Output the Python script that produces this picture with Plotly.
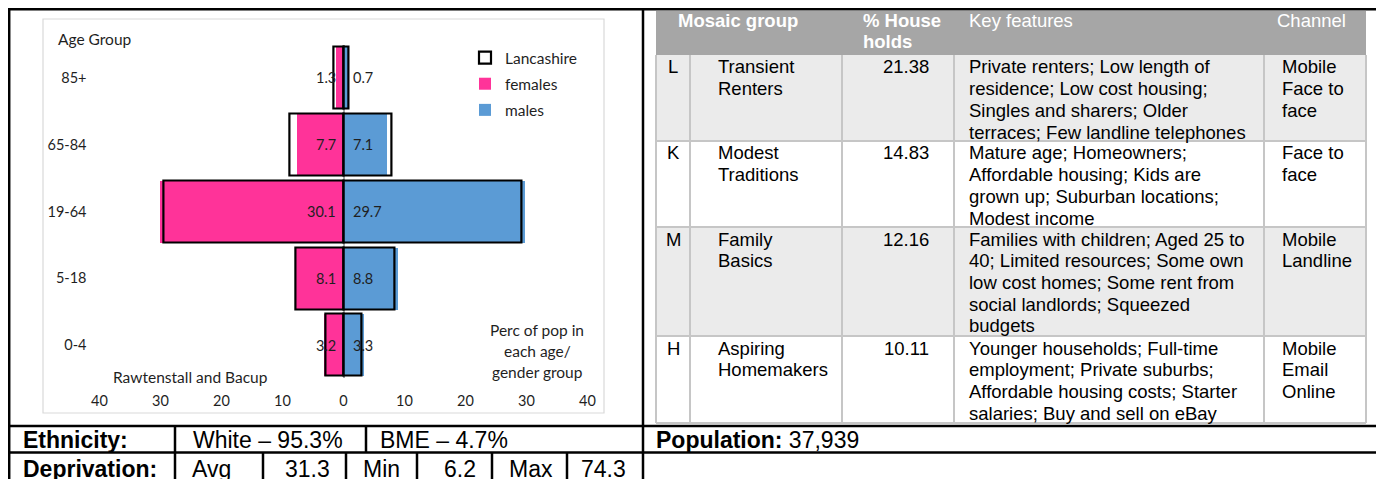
import plotly.graph_objects as go

# page is shown with an 8px body margin, so the figure is 8px smaller
OFF = 8
W, H = 1384 - OFF, 479 - OFF

# ---------------- data ----------------
age_groups = ["0-4", "5-18", "19-64", "65-84", "85+"]
females = [3.2, 8.1, 30.1, 7.7, 1.3]
males = [3.3, 8.8, 29.7, 7.1, 0.7]
lanc_females = [2.9, 7.9, 29.5, 8.9, 1.6]
lanc_males = [3.0, 8.3, 29.2, 7.9, 0.9]
x_ticks = [-40, -30, -20, -10, 0, 10, 20, 30, 40]
x_tick_labels = [str(abs(v)) for v in x_ticks]

table_header = ["Mosaic group", "% House<br>holds", "Key features", "Channel"]
mosaic_codes = ["L", "K", "M", "H"]
mosaic_names = [["Transient", "Renters"], ["Modest", "Traditions"],
                ["Family", "Basics"], ["Aspiring", "Homemakers"]]
household_pct = ["21.38", "14.83", "12.16", "10.11"]
key_features = [
    ["Private renters; Low length of", "residence; Low cost housing;",
     "Singles and sharers; Older", "terraces; Few landline telephones"],
    ["Mature age; Homeowners;", "Affordable housing; Kids are",
     "grown up; Suburban locations;", "Modest income"],
    ["Families with children; Aged 25 to", "40; Limited resources; Some own",
     "low cost homes; Some rent from", "social landlords; Squeezed", "budgets"],
    ["Younger households; Full-time", "employment; Private suburbs;",
     "Affordable housing costs; Starter", "salaries; Buy and sell on eBay"],
]
channels = [["Mobile", "Face to", "face"], ["Face to", "face"],
            ["Mobile", "Landline"], ["Mobile", "Email", "Online"]]

ethnicity_labels = ["White", "BME"]
ethnicity_values = [95.3, 4.7]
deprivation_labels = ["Avg", "Min", "Max"]
deprivation_values = [31.3, 6.2, 74.3]
population = 37939

# ---------------- helpers (page pixels -> paper) ----------------
def px(x):
    return (x - OFF) / W


def py(y):
    return 1 - (y - OFF) / H


shapes = []
annotations = []


def hline(y, x0, x1, color="black", width=2.5):
    shapes.append(dict(type="line", xref="paper", yref="paper", x0=px(x0), x1=px(x1),
                       y0=py(y), y1=py(y), line=dict(color=color, width=width)))


def vline(x, y0, y1, color="black", width=2.5):
    shapes.append(dict(type="line", xref="paper", yref="paper", x0=px(x), x1=px(x),
                       y0=py(y0), y1=py(y1), line=dict(color=color, width=width)))


def rect(x0, y0, x1, y1, fill=None, line_color=None, lw=1, layer="below"):
    shapes.append(dict(type="rect", xref="paper", yref="paper", x0=px(x0), x1=px(x1),
                       y0=py(y1), y1=py(y0), fillcolor=fill or "rgba(0,0,0,0)",
                       line=dict(color=line_color or "rgba(0,0,0,0)", width=lw if line_color else 0),
                       layer=layer))


def txt(x, y, s, anchor="left", size=18.5, color="#000000",
        family="Liberation Sans, Arial, sans-serif"):
    annotations.append(dict(xref="paper", yref="paper", x=px(x), y=py(y), text=s,
                            showarrow=False, xanchor=anchor, yanchor="middle",
                            font=dict(family=family, size=size, color=color), borderpad=0))


CAL = "Lato, Carlito, Calibri, sans-serif"
TXT = "#1f1f1f"
CS = 15.5

# ---------------- chart frame ----------------
rect(43, 19, 604, 413, line_color="#d9d9d9", lw=1.2)
txt(57, 39, "Age Group", size=CS, color=TXT, family=CAL)
txt(191, 377, "Rawtenstall and Bacup", anchor="center", size=CS, color=TXT, family=CAL)
for i, line in enumerate(["Perc of pop in", "each age/", "gender group"]):
    txt(537, 330 + 21 * i, line, anchor="center", size=CS, color=TXT, family=CAL)

# ---------------- bars ----------------
fig = go.Figure()
fig.add_trace(go.Bar(y=age_groups, x=[-v for v in females], orientation="h", name="females",
                     marker=dict(color="#ff3399", line=dict(width=0)), width=0.93,
                     legendgroup="f", legendrank=2, hoverinfo="skip"))
fig.add_trace(go.Bar(y=age_groups, x=males, orientation="h", name="males",
                     marker=dict(color="#5b9bd5", line=dict(width=0)), width=0.93,
                     legendgroup="m", legendrank=3, hoverinfo="skip"))
fig.add_trace(go.Bar(y=age_groups, x=[-v for v in lanc_females], orientation="h", name="Lancashire",
                     marker=dict(color="rgba(0,0,0,0)", line=dict(color="black", width=2.2)),
                     width=0.93, legendgroup="l", legendrank=1, hoverinfo="skip"))
fig.add_trace(go.Bar(y=age_groups, x=lanc_males, orientation="h", name="Lancashire",
                     marker=dict(color="rgba(0,0,0,0)", line=dict(color="black", width=2.2)),
                     width=0.93, legendgroup="l", showlegend=False, hoverinfo="skip"))

for g, v in zip(age_groups, females):
    annotations.append(dict(xref="x", yref="y", x=0, y=g, text=f"{v}", showarrow=False,
                            xanchor="right", xshift=-7, borderpad=0,
                            font=dict(family=CAL, size=14.5, color=TXT)))
for g, v in zip(age_groups, males):
    annotations.append(dict(xref="x", yref="y", x=0, y=g, text=f"{v}", showarrow=False,
                            xanchor="left", xshift=8, borderpad=0,
                            font=dict(family=CAL, size=14.5, color=TXT)))

# ---------------- outer frame ----------------
hline(9.2, 8, 1378.7)
vline(9.2, 8, 479)
vline(1377.5, 8, 479)
vline(643, 8, 479)
hline(426, 8, 1378.7)
hline(452.5, 8, 1378.7)
vline(175, 426, 479)
vline(366, 426, 452.5)
for xd in [263, 346, 417, 492, 567]:
    vline(xd, 452.5, 479)

# ---------------- table ----------------
col_x = [656, 690, 842, 954, 1264, 1366]
row_top = [55, 141, 227, 336, 423]
row_fill = ["#ebebeb", "#ffffff", "#ebebeb", "#ffffff"]
rect(656, 11, 1366, 55, fill="#a6a6a6")
for i in range(4):
    rect(656, row_top[i], 1366, row_top[i + 1], fill=row_fill[i])
for yb in row_top[1:]:
    hline(yb, 656, 1366, color="#c6c6c6", width=2)
for xb in col_x:
    vline(xb, 55, 423, color="#c6c6c6", width=2)

WH = "#ffffff"
txt(738, 21, "<b>" + table_header[0] + "</b>", anchor="center", color=WH)
hdr2 = table_header[1].split("<br>")
txt(862, 21, "<b>" + hdr2[0] + "</b>", color=WH)
txt(862, 42, "<b>" + hdr2[1] + "</b>", color=WH)
txt(968, 21, table_header[2], color=WH)
txt(1276, 21, table_header[3], color=WH)

LS = 21.7
for i in range(4):
    y0 = row_top[i] + 12
    txt(673, y0, mosaic_codes[i], anchor="center")
    for j, s in enumerate(mosaic_names[i]):
        txt(717, y0 + LS * j, s)
    txt(930, y0, household_pct[i], anchor="right")
    for j, s in enumerate(key_features[i]):
        txt(968, y0 + LS * j, s)
    for j, s in enumerate(channels[i]):
        txt(1281, y0 + LS * j, s)

# ---------------- bottom rows ----------------
BS = 23
txt(22, 440, "<b>Ethnicity:</b>", size=BS)
txt(192, 440, f"{ethnicity_labels[0]} – {ethnicity_values[0]}%", size=BS)
txt(379, 440, f"{ethnicity_labels[1]} – {ethnicity_values[1]}%", size=BS)
txt(655, 440, f"<b>Population:</b> {population:,}", size=BS)

DY = 469
txt(22, DY, "<b>Deprivation:</b>", size=BS)
dep_cells = [(175, 263, 346), (346, 417, 492), (492, 567, 642)]
for (l0, mid, r1), lab, val in zip(dep_cells, deprivation_labels, deprivation_values):
    txt(l0 + 16, DY, lab, size=BS)
    txt(r1 - 15, DY, f"{val}", anchor="right", size=BS)

# ---------------- layout ----------------
fig.update_layout(
    template="none",
    width=W, height=H, margin=dict(l=0, r=0, t=0, b=0, pad=0),
    paper_bgcolor="white", plot_bgcolor="rgba(0,0,0,0)",
    barmode="overlay", bargap=0,
    font=dict(family=CAL, size=14.5, color=TXT),
    showlegend=True,
    legend=dict(x=px(465), y=py(41), xanchor="left", yanchor="top",
                bgcolor="rgba(0,0,0,0)", borderwidth=0, tracegroupgap=3, itemwidth=30,
                font=dict(family=CAL, size=CS, color=TXT), itemclick=False),
    xaxis=dict(domain=[px(99.5), px(587.5)], range=[-40, 40], tickvals=x_ticks,
               ticktext=x_tick_labels, showgrid=False, zeroline=True, automargin=False,
               zerolinecolor="#a6a6a6", zerolinewidth=2, showline=False, ticks="",
               ticklabelstandoff=12, layer="above traces", fixedrange=True,
               tickfont=dict(family=CAL, size=14.5, color=TXT)),
    yaxis=dict(domain=[py(378.4), py(44.6)], range=[-0.5, 4.5], type="category",
               categoryorder="array", categoryarray=age_groups, showgrid=False,
               automargin=False, zeroline=False, showline=False, ticks="",
               ticklabelstandoff=12, fixedrange=True,
               tickfont=dict(family=CAL, size=14.5, color=TXT)),
    shapes=shapes, annotations=annotations,
)

fig.write_html("out.html")
